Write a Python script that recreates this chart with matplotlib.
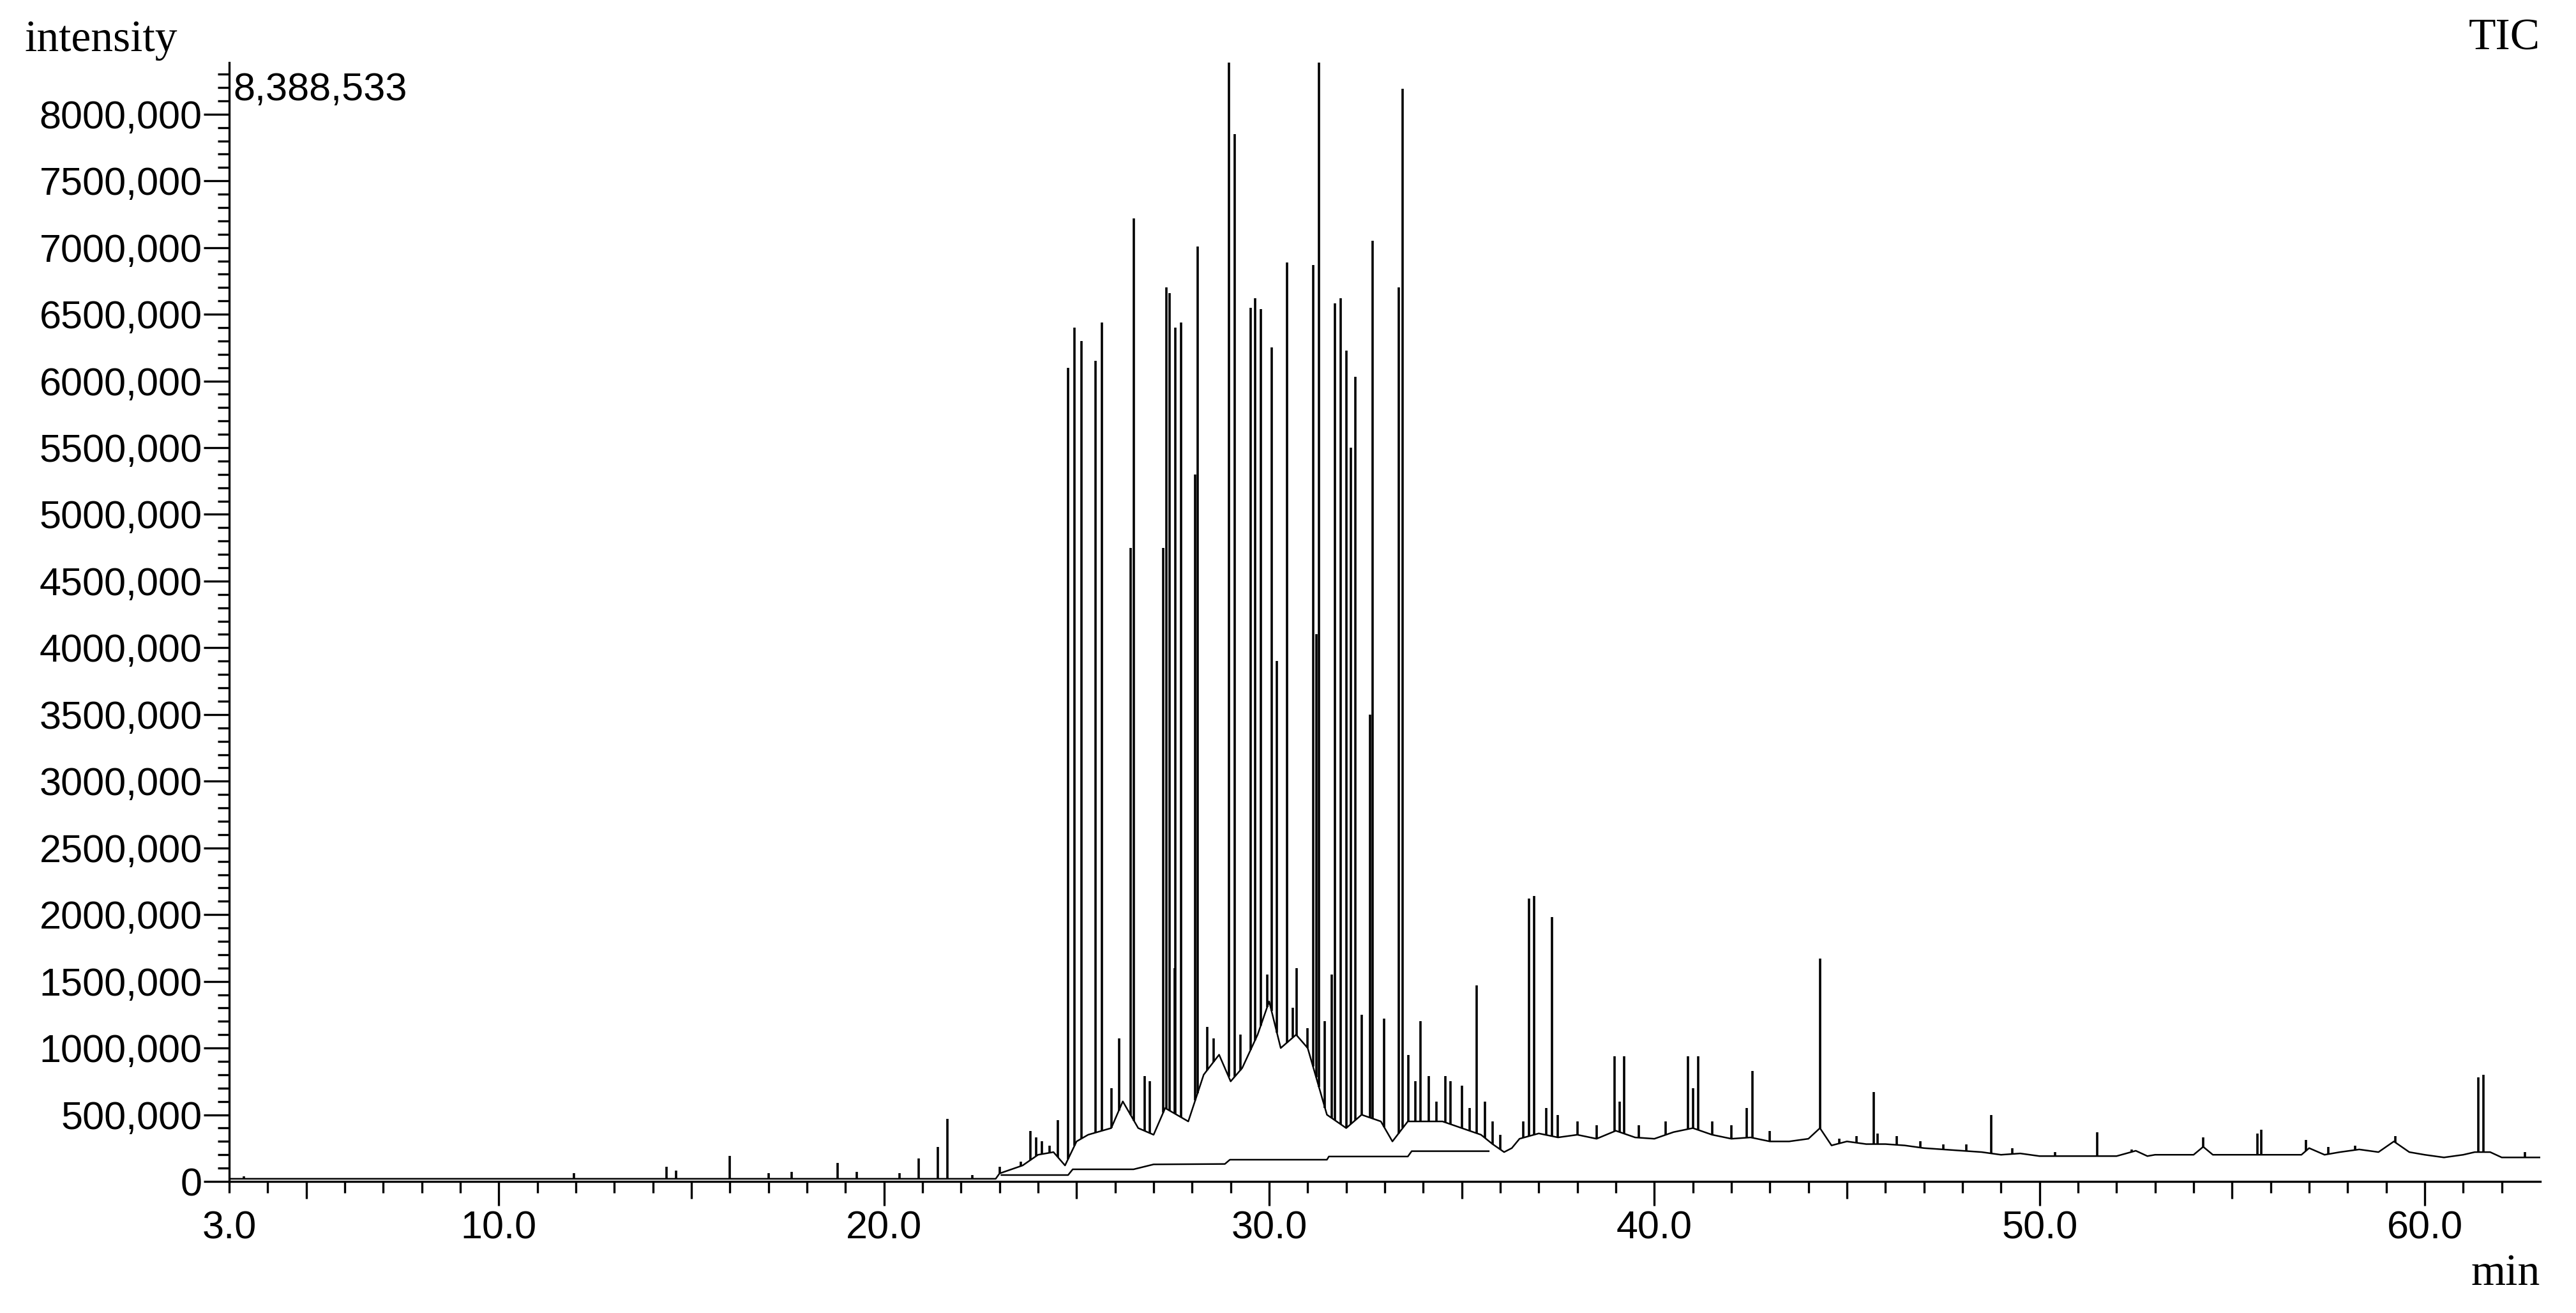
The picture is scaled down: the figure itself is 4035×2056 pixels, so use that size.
import numpy as np
import matplotlib
matplotlib.use("Agg")
from matplotlib import pyplot as plt

# retention time (min) and apex intensity (millions) of each peak
peak_rt = [3.38, 11.95, 14.35, 14.6, 16.0, 17.0, 17.6, 18.8, 19.3, 20.4, 20.9, 21.4, 21.65,
           22.3, 23.0, 23.55, 23.8, 23.95, 24.1, 24.3, 24.52,
           24.78, 24.95, 25.12, 25.49, 25.66, 25.9, 26.1, 26.40, 26.49, 26.77, 26.9,
           27.25, 27.33, 27.41, 27.54, 27.56, 27.72, 28.08, 28.14, 28.39, 28.56,
           28.95, 29.11, 29.25, 29.52, 29.63, 29.78, 29.95, 30.06, 30.2, 30.46,
           30.62, 30.72, 31.0, 31.14, 31.22, 31.29, 31.45, 31.62, 31.70, 31.85,
           32.00, 32.12, 32.23, 32.4, 32.62, 32.68, 32.99, 33.36, 33.47, 33.62,
           33.8, 33.93, 34.15, 34.35, 34.57, 34.7, 35.0, 35.2, 35.38, 35.6, 35.8, 36.0,
           36.6, 36.75, 36.88, 37.2, 37.35, 37.5, 38.0, 38.5, 38.97, 39.1, 39.22,
           39.6, 40.3, 40.88, 41.0, 41.14, 41.5, 42.0, 42.4, 42.55, 43.0, 44.31,
           44.8, 45.25, 45.69, 45.8, 46.3, 46.9, 47.5, 48.1, 48.74, 49.3, 50.4,
           51.5, 52.4, 54.25, 55.65, 55.75, 56.92, 57.5, 58.2, 59.24, 61.4, 61.52, 62.6]
peak_int = [0.04, 0.06, 0.11, 0.08, 0.19, 0.06, 0.07, 0.14, 0.07, 0.06, 0.17, 0.26, 0.47,
            0.05, 0.11, 0.15, 0.38, 0.33, 0.30, 0.27, 0.46,
            6.10, 6.40, 6.30, 6.15, 6.44, 0.70, 1.07, 4.75, 7.22, 0.79, 0.75,
            4.75, 6.70, 6.66, 1.60, 6.40, 6.44, 5.30, 7.01, 1.16, 1.07,
            8.39, 7.85, 1.10, 6.55, 6.62, 6.54, 1.55, 6.25, 3.90, 6.89,
            1.30, 1.60, 1.15, 6.87, 4.10, 8.39, 1.20, 1.55, 6.58, 6.62,
            6.23, 5.50, 6.03, 1.25, 3.50, 7.05, 1.22, 6.70, 8.19, 0.95,
            0.75, 1.20, 0.79, 0.60, 0.79, 0.75, 0.72, 0.55, 1.47, 0.60, 0.45, 0.35,
            0.45, 2.12, 2.14, 0.55, 1.98, 0.50, 0.45, 0.42, 0.94, 0.60, 0.94,
            0.42, 0.45, 0.94, 0.70, 0.94, 0.45, 0.42, 0.55, 0.83, 0.38, 1.67,
            0.32, 0.34, 0.67, 0.36, 0.34, 0.30, 0.28, 0.28, 0.50, 0.25, 0.22,
            0.37, 0.24, 0.33, 0.36, 0.39, 0.31, 0.26, 0.27, 0.34, 0.78, 0.80, 0.22]

# signal level between peaks (millions)
floor_rt = [3.0, 22.9, 23.0, 23.2, 23.6, 24.0, 24.4, 24.7, 25.0, 25.3, 25.9, 26.2, 26.6,
            27.0, 27.3, 27.9, 28.3, 28.7, 29.0, 29.3, 29.7, 30.0, 30.3, 30.7, 31.0,
            31.5, 32.0, 32.4, 32.9, 33.2, 33.6, 34.0, 34.5, 35.0, 35.5, 35.8, 36.1,
            36.3, 36.5, 37.0, 37.5, 38.0, 38.5, 39.0, 39.5, 40.0, 40.5, 41.0, 41.5,
            42.0, 42.5, 43.0, 43.5, 44.0, 44.3, 44.6, 45.0, 45.5, 46.0, 46.5, 47.0,
            47.5, 48.0, 48.5, 49.0, 49.5, 50.0, 51.0, 52.0, 52.5, 52.8, 53.0, 54.0,
            54.25, 54.5, 55.5, 56.8, 57.0, 57.4, 57.8, 58.3, 58.8, 59.2, 59.6, 60.0,
            60.5, 61.0, 61.3, 61.7, 62.0, 63.0]
floor_int = [0.02, 0.02, 0.06, 0.08, 0.12, 0.20, 0.22, 0.12, 0.30, 0.35, 0.40, 0.60, 0.40,
             0.35, 0.55, 0.45, 0.80, 0.95, 0.75, 0.85, 1.10, 1.35, 1.00, 1.10, 1.00,
             0.50, 0.40, 0.50, 0.45, 0.30, 0.45, 0.45, 0.45, 0.40, 0.35, 0.28, 0.22,
             0.25, 0.32, 0.36, 0.33, 0.35, 0.32, 0.38, 0.33, 0.32, 0.37, 0.40, 0.35,
             0.32, 0.33, 0.30, 0.30, 0.32, 0.40, 0.27, 0.30, 0.28, 0.28, 0.27, 0.25,
             0.24, 0.23, 0.22, 0.20, 0.21, 0.19, 0.19, 0.19, 0.23, 0.19, 0.20, 0.20,
             0.26, 0.20, 0.20, 0.20, 0.25, 0.20, 0.22, 0.24, 0.22, 0.30, 0.22, 0.20,
             0.18, 0.20, 0.22, 0.22, 0.18, 0.18]

# integration baseline under the main cluster (millions)
base_rt = [23.05, 24.78, 24.9, 26.48, 27.0, 28.85, 28.98, 31.5, 31.55, 33.6, 33.7, 35.7]
base_int = [0.048, 0.048, 0.091, 0.091, 0.128, 0.131, 0.163, 0.163, 0.187, 0.187, 0.227, 0.227]

x_major = [3, 10, 20, 30, 40, 50, 60]
x_minor = [t for t in range(4, 63) if t % 10 != 0]
y_major = list(range(0, 8000001, 500000))
y_minor = [v for v in range(0, 8300001, 100000) if v % 500000 != 0]
y_top = 8388533

sans = 'Liberation Sans'
serif = 'Liberation Serif'

fig = plt.figure(figsize=(40.35, 20.56), dpi=100)
ax = fig.add_axes([0.08897, 0.10019, 0.89715, 0.85234])

p_rt = np.array(peak_rt)
p_int = np.array(peak_int) * 1e6
f_int = np.array(floor_int) * 1e6
foot = np.interp(p_rt, floor_rt, f_int)

ax.vlines(p_rt, foot, p_int, colors='black', lw=2.6)
ax.plot(floor_rt, f_int, color='black', lw=1.8)
ax.plot(base_rt, np.array(base_int) * 1e6, color='black', lw=1.8)

ax.set_xlim(3, 63)
ax.set_ylim(0, y_top)

for s in ['top', 'right']:
  ax.spines[s].set_visible(False)
for s in ['left', 'bottom']:
  ax.spines[s].set_linewidth(2.4)

ax.set_xticks(x_major)
ax.set_xticklabels(['%.1f' % t for t in x_major], family=sans)
ax.set_xticks(x_minor, minor=True)
ax.set_yticks(y_major)
ax.set_yticklabels(['0' if v == 0 else '%d,000' % (v // 1000) for v in y_major], family=sans)
ax.set_yticks(y_minor, minor=True)

ax.tick_params(axis='x', which='major', direction='out', length=27, width=2.4, pad=6, labelsize=44)
ax.tick_params(axis='x', which='minor', direction='out', length=13, width=2.4)
ax.tick_params(axis='y', which='major', direction='out', length=29, width=2.4, pad=1.5, labelsize=44)
ax.tick_params(axis='y', which='minor', direction='out', length=13, width=2.4)

# 3.0 tick is short, 5-minute ticks are medium
ax.xaxis.get_major_ticks()[0].tick1line.set_markersize(13)
for tick, loc in zip(ax.xaxis.get_minor_ticks(len(x_minor)), x_minor):
  if loc % 5 == 0:
    tick.tick1line.set_markersize(19.5)

fig.text(38 / 4035, 1 - 80 / 2056, 'intensity', family=serif, size=50, ha='left', va='baseline')
fig.text(3979 / 4035, 1 - 78 / 2056, 'TIC', family=serif, size=50, ha='right', va='baseline')
fig.text(3979 / 4035, 1 - 2012 / 2056, 'min', family=serif, size=50, ha='right', va='baseline')
fig.text(365 / 4035, 1 - 113 / 2056, '8,388,533', family=sans, size=44, ha='left', va='top')

fig.savefig('out.png', dpi=100)
